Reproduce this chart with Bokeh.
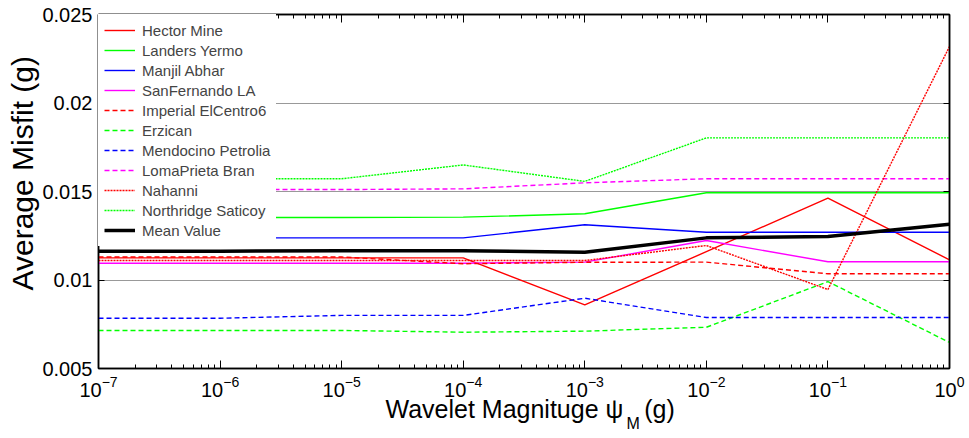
from bokeh.plotting import figure
from bokeh.models import (LogAxis, LinearAxis, Title, FixedTicker, NumeralTickFormatter,
                          CustomJSTickFormatter, Range1d)
from bokeh.embed import file_html
from bokeh.resources import INLINE

# ---- data ----
wavelet_mag = [1e-7, 1e-6, 1e-5, 1e-4, 1e-3, 1e-2, 1e-1, 1.0]

hector_mine      = [0.01125, 0.01125, 0.01125, 0.01125, 0.00860, 0.01160, 0.01462, 0.01114]
landers_yermo    = [0.01353, 0.01353, 0.01353, 0.01355, 0.01374, 0.01493, 0.01493, 0.01493]
manjil_abhar     = [0.01238, 0.01238, 0.01238, 0.01238, 0.01312, 0.01270, 0.01270, 0.01270]
sanfernando_la   = [0.01095, 0.01095, 0.01095, 0.01095, 0.01101, 0.01223, 0.01103, 0.01103]
imperial_elc6    = [0.01130, 0.01130, 0.01130, 0.01092, 0.01100, 0.01101, 0.01035, 0.01035]
erzican          = [0.00715, 0.00715, 0.00715, 0.00705, 0.00711, 0.00733, 0.00991, 0.00647]
mendocino_petro  = [0.00784, 0.00784, 0.00800, 0.00800, 0.00897, 0.00788, 0.00788, 0.00788]
lomaprieta_bran  = [0.01511, 0.01511, 0.01511, 0.01515, 0.01549, 0.01572, 0.01572, 0.01572]
nahanni          = [0.01110, 0.01110, 0.01110, 0.01110, 0.01110, 0.01195, 0.00946, 0.02319]
northridge_sat   = [0.01572, 0.01572, 0.01572, 0.01650, 0.01557, 0.01803, 0.01803, 0.01803]
mean_value       = [0.01163, 0.01163, 0.01165, 0.01165, 0.01157, 0.01238, 0.01246, 0.01315]

series = [
    ("Hector Mine", hector_mine, "#ff0000", "solid"),
    ("Landers Yermo", landers_yermo, "#00ff00", "solid"),
    ("Manjil Abhar", manjil_abhar, "#0000ff", "solid"),
    ("SanFernando LA", sanfernando_la, "#ff00ff", "solid"),
    ("Imperial ElCentro6", imperial_elc6, "#ff0000", "5 3"),
    ("Erzican", erzican, "#00ff00", "5 3"),
    ("Mendocino Petrolia", mendocino_petro, "#0000ff", "5 3"),
    ("LomaPrieta Bran", lomaprieta_bran, "#ff00ff", "5 3"),
    ("Nahanni", nahanni, "#ff0000", "2 1"),
    ("Northridge Saticoy", northridge_sat, "#00ff00", "2 1"),
]

y_ticks = [0.005, 0.01, 0.015, 0.02, 0.025]
x_major = [1e-7, 1e-6, 1e-5, 1e-4, 1e-3, 1e-2, 1e-1, 1.0]
x_minor = [k * 10.0 ** e for e in range(-7, 0) for k in range(2, 10)]

FONT = "Liberation Sans"
NBSP = "\u00a0"

p = figure(width=969, height=438, x_axis_type="log",
           x_range=Range1d(1e-7, 1.0), y_range=Range1d(0.005, 0.025),
           output_backend="svg", toolbar_location=None,
           min_border_left=98, min_border_right=20, min_border_top=14, min_border_bottom=70)
p.background_fill_color = "white"
p.border_fill_color = "white"
p.outline_line_color = "black"
p.outline_line_width = 1.5

for name, ys, color, dash in series:
    p.line(wavelet_mag, ys, line_color=color, line_width=1.4, line_dash=dash, legend_label=name)
p.line(wavelet_mag, mean_value, line_color="black", line_width=3.5, legend_label="Mean Value")

def style_x(ax):
    ax.ticker = FixedTicker(ticks=x_major, minor_ticks=x_minor)
    ax.major_tick_in = 8
    ax.major_tick_out = 0
    ax.minor_tick_in = 4
    ax.minor_tick_out = 0
    ax.axis_line_width = 1.5
    ax.major_tick_line_width = 1
    ax.minor_tick_line_width = 1
    ax.major_label_text_font = FONT
    ax.major_label_text_font_size = "20px"
    ax.major_label_text_color = "black"

def style_y(ax):
    ax.ticker = FixedTicker(ticks=y_ticks)
    ax.major_tick_in = 6
    ax.major_tick_out = 0
    ax.minor_tick_in = 0
    ax.minor_tick_out = 0
    ax.axis_line_width = 1.5
    ax.major_label_text_font = FONT
    ax.major_label_text_font_size = "20px"
    ax.major_label_text_color = "black"

xa = p.xaxis[0]
style_x(xa)
xa.major_label_standoff = 7
ya = p.yaxis[0]
style_y(ya)
ya.formatter = NumeralTickFormatter(format="0.[000]")
ya.major_label_standoff = 6

top = LogAxis()
style_x(top)
top.formatter = CustomJSTickFormatter(code="return ''")
top.major_label_standoff = 0
p.add_layout(top, "above")

right = LinearAxis()
style_y(right)
right.formatter = CustomJSTickFormatter(code="return ''")
right.major_label_standoff = 0
p.add_layout(right, "right")

p.xgrid.visible = False
p.ygrid.ticker = FixedTicker(ticks=y_ticks)
p.ygrid.grid_line_color = "#999999"
p.ygrid.grid_line_width = 1

lg = p.legend[0]
lg.location = "top_left"
lg.margin = 0
lg.padding = 6
lg.spacing = 0
lg.label_height = 20
lg.glyph_height = 20
lg.glyph_width = 31
lg.label_standoff = 7
lg.label_text_font = FONT
lg.label_text_font_size = "15px"
lg.border_line_alpha = 0
lg.background_fill_color = "white"
lg.background_fill_alpha = 1


def make_title(text, size, align, offset, standoff, valign):
    t = Title(text=text, align=align, offset=offset, text_font=FONT, text_font_size=size,
              text_font_style="normal", text_color="black", vertical_align=valign)
    try:
        t.standoff = standoff
    except ValueError:
        t.standoff = 0
    return t

# y axis title (left panel, vertical text)
p.add_layout(make_title("Average Misfit (g)", "30px", "left", 78, 2, "bottom"), "left")
# x axis title with subscript M
p.add_layout(make_title("Wavelet Magnituge ψ" + NBSP * 3 + "(g)", "25px", "left", 287, -9, "top"), "below")
p.add_layout(make_title("M", "16px", "left", 528, -12, "top"), "below")

open("out.html", "w").write(file_html(p, INLINE))
